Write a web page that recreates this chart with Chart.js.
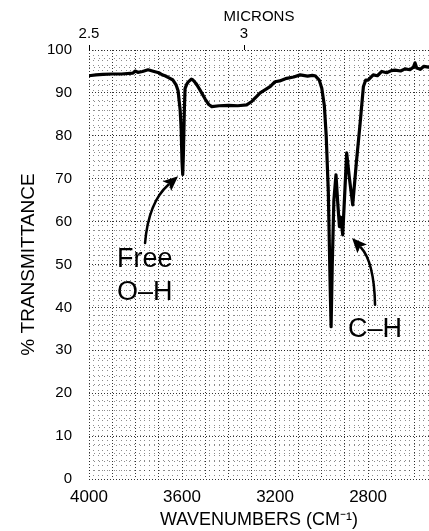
<!DOCTYPE html>
<html><head><meta charset="utf-8">
<script src="https://cdn.jsdelivr.net/npm/chart.js@4/dist/chart.umd.min.js"></script>
<style>html,body{margin:0;padding:0;background:#fff}canvas{display:block}</style>
</head><body>
<canvas id="c" width="429" height="531" style="width:429px;height:531px"></canvas>
<script>
// ---- data ----
const wavenumbers = [
  4000, 3970, 3940, 3900, 3860, 3811, 3802, 3790, 3770, 3746, 3720, 3700, 3685, 3673, 3660,
  3639, 3625, 3617, 3608, 3604, 3600, 3597, 3594, 3590, 3587, 3580, 3574, 3560, 3553, 3540,
  3523, 3500, 3485, 3472, 3440, 3400, 3360, 3322, 3300, 3264, 3240, 3220, 3200, 3180, 3150,
  3120, 3092, 3060, 3040, 3028, 3010, 2999, 2988, 2980, 2971, 2963, 2959, 2954, 2947, 2938,
  2930, 2923, 2917, 2909, 2900, 2892, 2880, 2866, 2850, 2834, 2820, 2810, 2800, 2778, 2760,
  2741, 2720, 2700, 2684, 2660, 2641, 2620, 2605, 2598, 2591, 2575, 2560, 2540
];
const transmittance = [
  94.0, 94.2, 94.3, 94.4, 94.4, 94.6, 95.1, 94.8, 95.0, 95.4, 95.0, 94.7, 94.2, 94.0, 93.6,
  93.0, 91.8, 90.5, 86.0, 82.0, 74.0, 71.0, 76.0, 86.0, 91.0, 92.0, 92.5, 93.2, 93.0, 92.2,
  90.7, 88.5, 87.3, 86.8, 87.0, 87.1, 87.0, 87.2, 88.0, 90.0, 90.8, 91.5, 92.6, 92.8, 93.4,
  93.7, 94.2, 93.9, 94.1, 94.0, 93.0, 91.1, 87.0, 80.0, 67.0, 45.0, 35.5, 50.0, 65.0, 70.9,
  64.0, 58.8, 61.0, 56.9, 67.0, 76.0, 70.0, 63.9, 74.0, 83.0, 91.5, 93.0, 93.0, 94.2, 94.0,
  95.0, 94.7, 95.2, 95.3, 95.1, 95.6, 95.4, 96.0, 97.0, 95.8, 95.5, 96.2, 96.0
];
const wavenumberTickLabels = [4000, 3600, 3200, 2800];
const transmittanceTickLabels = [0, 10, 20, 30, 40, 50, 60, 70, 80, 90, 100];
const micronTicks = [2.5, 3];
const annotationTexts = ['Free', 'O–H', 'C–H'];

const XMIN = 2538, XMAX = 4000;
const FONT = "'Liberation Sans', Arial, Helvetica, sans-serif";

const annotationPlugin = {
  id: 'irAnnotations',
  afterDatasetsDraw(chart, args, opts) {
    const {ctx, scales: {x, y}} = chart;
    const P = (p) => [x.getPixelForValue(p[0]), y.getPixelForValue(p[1])];
    ctx.save();
    ctx.fillStyle = '#000';
    ctx.strokeStyle = '#000';
    ctx.font = opts.fontSize + 'px ' + FONT;
    ctx.textAlign = 'left';
    ctx.textBaseline = 'alphabetic';
    opts.texts.forEach(t => {
      const [X, Y] = P(t.at);
      ctx.fillText(t.text, X, Y);
    });
    opts.arrows.forEach(a => {
      const [sx, sy] = P(a.start), [cx, cy] = P(a.control), [ex, ey] = P(a.tip);
      let dx = ex - cx, dy = ey - cy;
      const len = Math.hypot(dx, dy); dx /= len; dy /= len;
      const hl = 15, hw = 6.5;
      const bx = ex - dx * hl, by = ey - dy * hl;
      ctx.lineWidth = 2.5;
      ctx.lineCap = 'round';
      ctx.beginPath();
      ctx.moveTo(sx, sy);
      ctx.quadraticCurveTo(cx, cy, bx + dx * 2, by + dy * 2);
      ctx.stroke();
      ctx.beginPath();
      ctx.moveTo(ex, ey);
      ctx.lineTo(bx - dy * hw, by + dx * hw);
      ctx.lineTo(bx + dx * 3, by + dy * 3);
      ctx.lineTo(bx + dy * hw, by - dx * hw);
      ctx.closePath();
      ctx.fill();
    });
    ctx.restore();
  }
};

const majorX = v => Math.round(v) % 100 === 0;
const majorY = v => Math.round(v) % 10 === 0;

new Chart(document.getElementById('c'), {
  type: 'line',
  data: {
    datasets: [{
      data: wavenumbers.map((w, i) => ({x: w, y: transmittance[i]})),
      borderColor: '#000',
      borderWidth: 3.2,
      pointRadius: 0,
      tension: 0,
      fill: false,
      borderJoinStyle: 'round',
      borderCapStyle: 'round'
    }]
  },
  plugins: [annotationPlugin],
  options: {
    responsive: false,
    animation: false,
    devicePixelRatio: 1,
    layout: {padding: 0},
    plugins: {
      legend: {display: false},
      tooltip: {enabled: false},
      irAnnotations: {
        fontSize: 27,
        texts: [
          {text: annotationTexts[0], at: [3880, 49.4]},
          {text: annotationTexts[1], at: [3880, 41.7]},
          {text: annotationTexts[2], at: [2886, 33.1]}
        ],
        arrows: [
          {start: [3759, 55.0], control: [3744, 64.5], tip: [3617, 70.6]},
          {start: [2770, 40.6], control: [2774, 50.6], tip: [2869, 56.2]}
        ]
      }
    },
    scales: {
      x: {
        type: 'linear', position: 'bottom', reverse: true, min: XMIN, max: XMAX,
        afterBuildTicks: s => {
          const t = [];
          for (let v = 2540; v <= XMAX; v += 20) t.push({value: v});
          s.ticks = t;
        },
        afterFit: s => { s.height = 52; },
        ticks: {
          autoSkip: false, maxRotation: 0, minRotation: 0, padding: 8, color: '#000',
          font: {family: FONT, size: 17},
          callback: v => wavenumberTickLabels.includes(Math.round(v)) ? String(Math.round(v)) : ''
        },
        grid: {
          drawTicks: false, lineWidth: 1,
          color: c => majorX(c.tick.value) ? 'rgba(0,0,0,0.8)' : 'rgba(0,0,0,0.45)'
        },
        border: {display: false, dash: c => (c.tick && majorX(c.tick.value)) ? [1, 2] : [1, 4]},
        title: {
          display: true, text: 'WAVENUMBERS (CM⁻¹)', color: '#000',
          font: {family: FONT, size: 18}, padding: {top: 0, bottom: 0}
        }
      },
      x2: {
        type: 'linear', position: 'top', reverse: true, min: XMIN, max: XMAX,
        afterBuildTicks: s => {
          s.ticks = micronTicks.map(m => ({value: 10000 / m})).sort((a, b) => a.value - b.value);
        },
        afterFit: s => { s.height = 50; },
        ticks: {
          autoSkip: false, maxRotation: 0, minRotation: 0, padding: 2, color: '#000',
          font: {family: FONT, size: 15},
          callback: v => {
            const m = 10000 / v;
            const hit = micronTicks.find(t => Math.abs(t - m) < 1e-6);
            return hit === undefined ? '' : String(hit);
          }
        },
        grid: {drawOnChartArea: false, drawTicks: true, tickLength: 5, color: '#000', lineWidth: 1},
        border: {display: false},
        title: {
          display: true, text: 'MICRONS', color: '#000',
          font: {family: FONT, size: 15}, padding: {top: 8, bottom: 0}
        }
      },
      y: {
        type: 'linear', position: 'left', min: 0, max: 100,
        afterBuildTicks: s => {
          const t = [];
          for (let v = 0; v <= 100; v += 2) t.push({value: v});
          s.ticks = t;
        },
        afterFit: s => { s.width = 89; },
        ticks: {
          autoSkip: false, padding: 17, color: '#000',
          font: {family: FONT, size: 15},
          callback: v => transmittanceTickLabels.includes(Math.round(v)) ? String(Math.round(v)) : ''
        },
        grid: {
          drawTicks: false, lineWidth: 1,
          color: c => majorY(c.tick.value) ? 'rgba(0,0,0,0.8)' : 'rgba(0,0,0,0.45)'
        },
        border: {display: false, dash: c => (c.tick && majorY(c.tick.value)) ? [1, 2] : [1, 4]},
        title: {
          display: true, text: '% TRANSMITTANCE', color: '#000',
          font: {family: FONT, size: 19}, padding: {top: 17, bottom: 0}
        }
      }
    }
  }
});
</script>
</body></html>
